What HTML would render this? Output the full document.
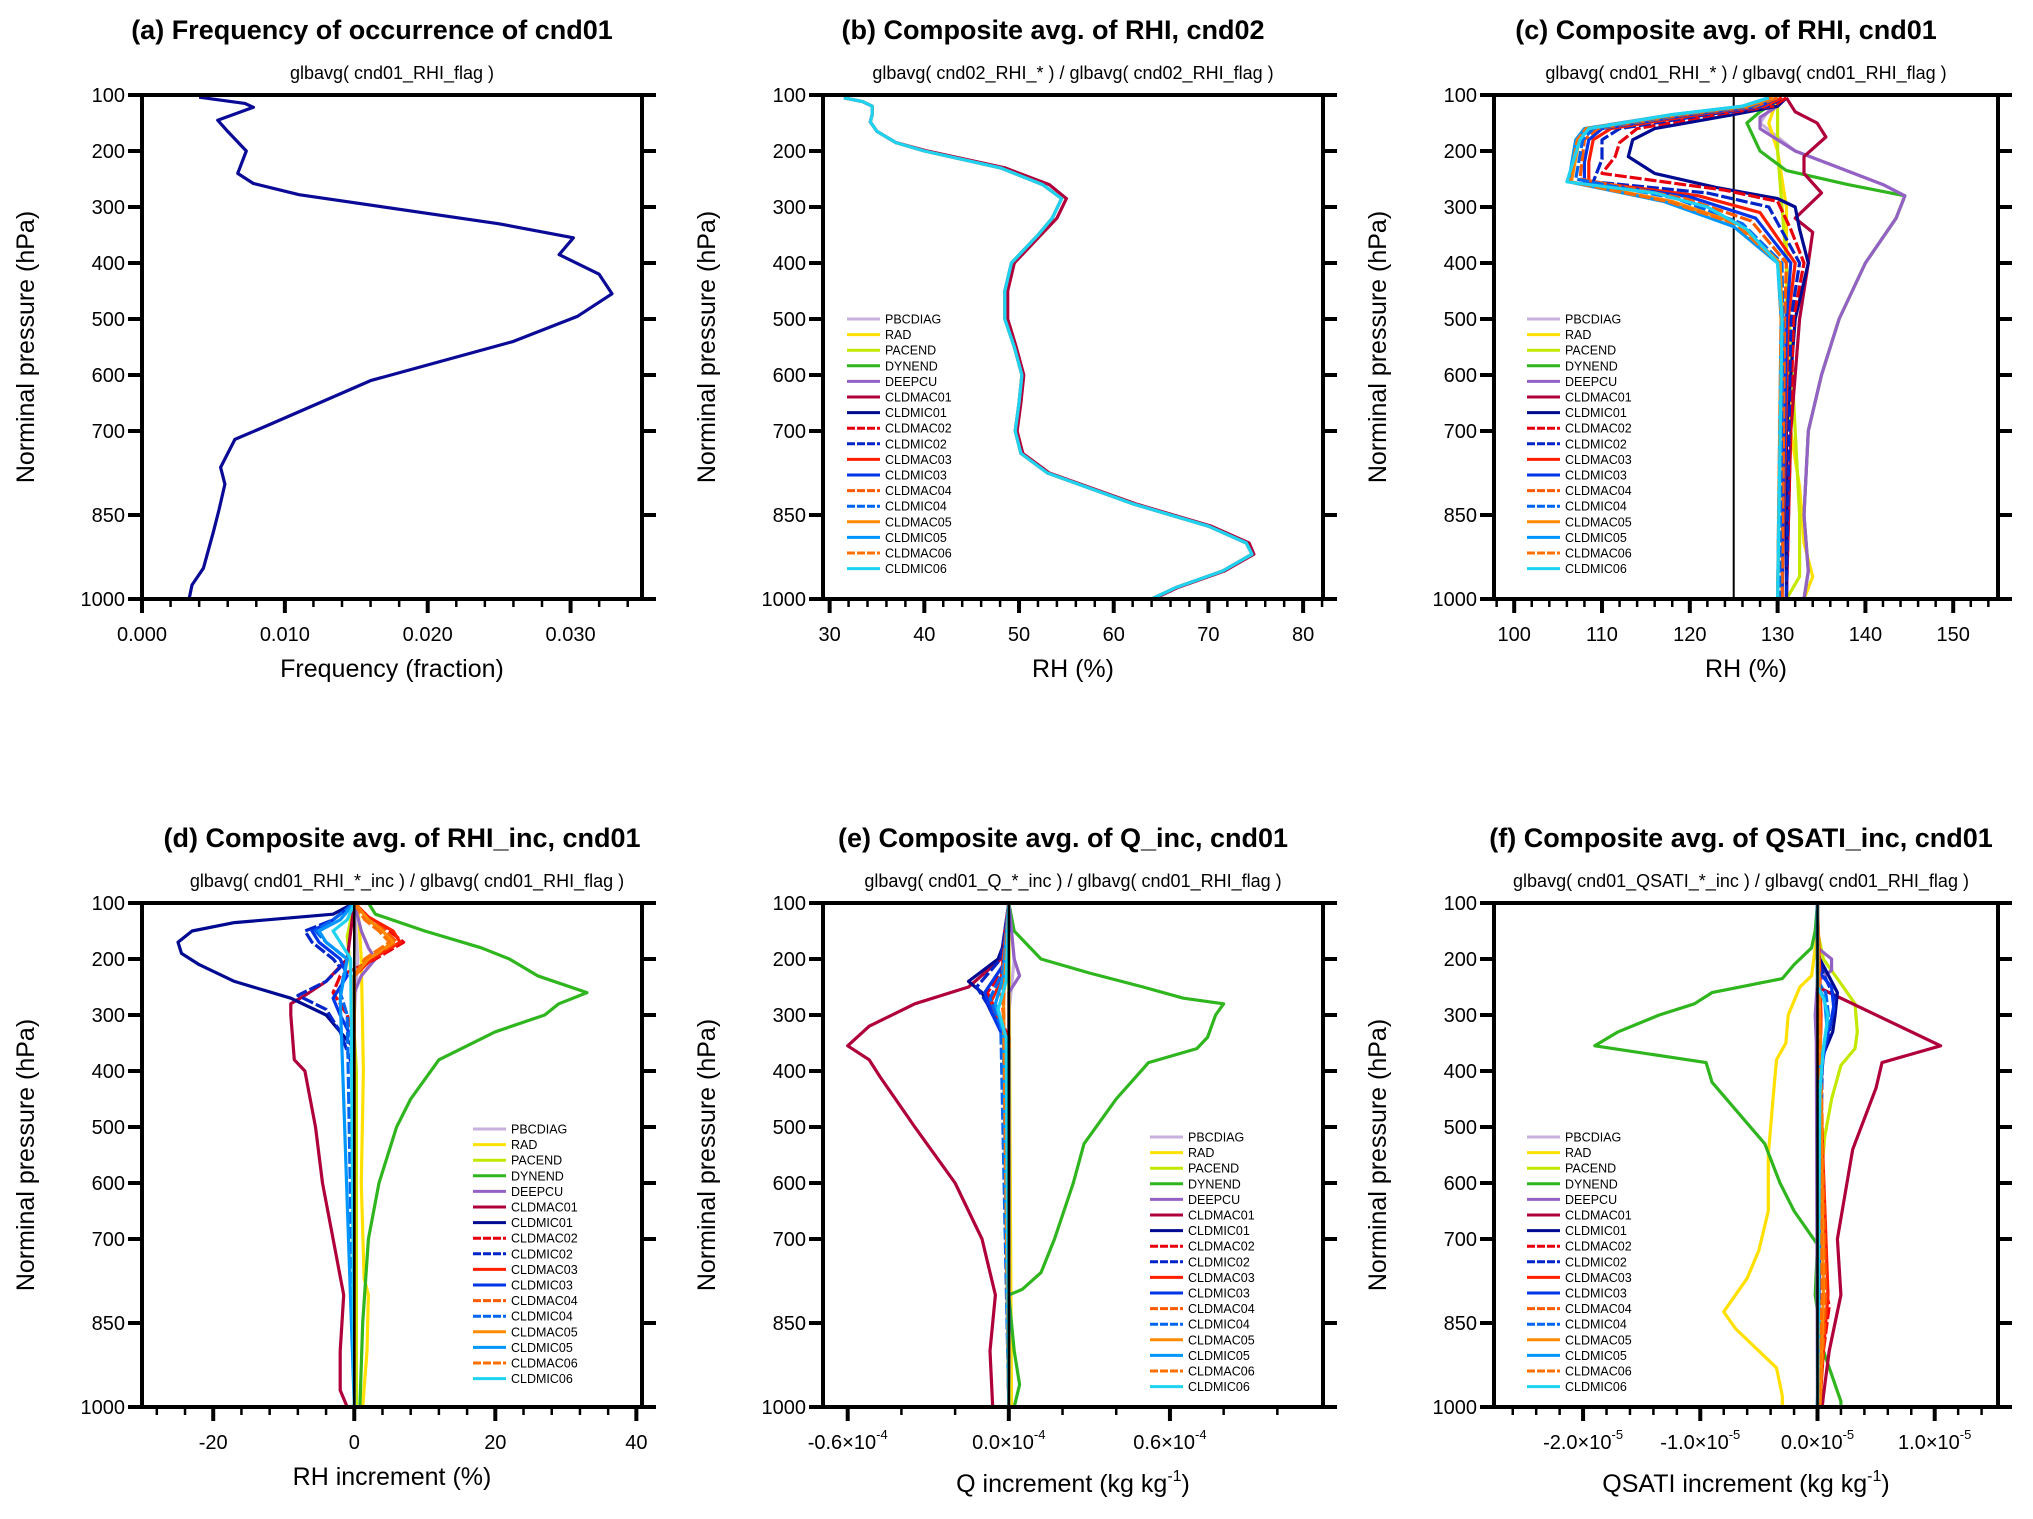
<!DOCTYPE html>
<html><head><meta charset="utf-8"><style>
html,body{margin:0;padding:0;background:#fff}
svg{display:block;font-family:"Liberation Sans",sans-serif}
</style></head><body>
<svg id="fig" width="2033" height="1519" viewBox="0 0 2033 1519" xmlns="http://www.w3.org/2000/svg"></svg>
<script>
// pressure tick data
const pTicks=[100,200,300,400,500,600,700,850,1000];
const seriesNames=["PBCDIAG","RAD","PACEND","DYNEND","DEEPCU","CLDMAC01","CLDMIC01","CLDMAC02","CLDMIC02","CLDMAC03","CLDMIC03","CLDMAC04","CLDMIC04","CLDMAC05","CLDMIC05","CLDMAC06","CLDMIC06"];
const seriesColors=["#c9b1df","#ffe000","#c4e800","#2fb51e","#9462c4","#b0003c","#000a90","#e8000c","#0024c8","#ff1e00","#0036e8","#ff5a00","#0066f0","#ff8a00","#0096ff","#ff7000","#1ed2f0"];
const seriesDash=[0,0,0,0,0,0,0,1,1,0,0,1,1,0,0,1,0];

// (a) frequency
const aFreq=[[104,0.004],[115,0.0072],[122,0.0078],[145,0.0053],[165,0.006],[200,0.0073],[240,0.0067],[258,0.0078],[278,0.011],[330,0.025],[355,0.0302],[385,0.0292],[420,0.032],[455,0.0329],[495,0.0305],[540,0.026],[610,0.016],[690,0.0088],[715,0.0065],[765,0.0055],[795,0.0058],[840,0.0054],[880,0.005],[945,0.0043],[975,0.0035],[1000,0.0033]];

// (b) RH cnd02
const bRH=[[105,31.5],[112,33.5],[120,34.5],[135,34.5],[148,34.3],[165,35],[185,37],[200,40],[230,48],[260,52.5],[285,54.5],[320,53.5],[350,52],[400,49.2],[450,48.5],[500,48.5],[550,49.5],[600,50.3],[650,50],[700,49.6],[740,50.2],[775,53],[830,62],[870,70],[900,74],[920,74.6],[950,71.5],[980,66.5],[1000,64]];
const bRHmac01=[[105,31.5],[112,33.5],[120,34.5],[135,34.5],[148,34.3],[165,35],[185,37],[200,40.3],[230,48.5],[260,53.2],[285,55],[320,54],[350,52.3],[400,49.5],[450,48.8],[500,48.8],[550,49.7],[600,50.5],[650,50.2],[700,49.8],[740,50.4],[775,53.2],[830,62.3],[870,70.3],[900,74.3],[920,74.8],[950,71.7],[980,66.7],[1000,64.2]];

// (c) RH cnd01
const cPBCDIAG=[[105,130],[150,128],[200,132],[230,137],[260,142],[280,144.5],[320,143.5],[400,140],[500,137],[600,135],[700,133.5],[850,133],[950,133.5],[1000,133]];
const cRAD=[[105,130],[150,129],[200,130],[300,131],[500,131],[700,131.5],[800,132.5],[900,133],[960,134],[1000,133]];
const cPACEND=[[105,130],[200,130],[400,131],[700,132],[850,132.5],[960,132.5],[1000,131]];
const cDYNEND=[[105,130.5],[130,128],[150,126.5],[200,128],[235,131],[260,138],[280,144.5],[320,143.5],[400,140],[500,137],[600,135],[700,133.5],[850,133],[950,133.5],[1000,133]];
const cDEEPCU=[[105,131],[120,130],[140,128],[160,128],[200,132],[230,137],[260,142],[280,144.5],[320,143.5],[400,140],[500,137],[600,135],[700,133.5],[850,133],[950,133.5],[1000,133]];
const cCLDMAC01=[[105,131],[130,132],[150,134.5],[175,135.5],[210,133],[240,133],[275,135],[320,132],[345,134],[400,133.5],[500,132.5],[700,131.5],[1000,131]];
const cCLDMIC01=[[105,131],[120,130],[135,125],[160,116],[180,113.5],[210,113],[240,116],[265,123],[285,130],[300,132],[340,132.5],[400,133.5],[500,132],[700,131],[1000,131]];
const cCLDMAC02=[[105,131],[120,129.5],[135,123],[160,114],[185,112],[210,111.5],[240,110],[270,124],[290,130],[340,131.5],[400,133],[500,131.8],[1000,131]];
const cCLDMIC02=[[105,130.5],[120,129],[135,122],[160,112],[180,110],[215,110],[255,109],[275,122],[300,129],[400,132.5],[500,131.5],[1000,131]];
const cCLDMAC03=[[105,130.5],[120,128.5],[135,121],[160,111],[180,109],[220,108.5],[255,108.5],[280,121],[310,128],[400,132],[500,131.2],[1000,130.5]];
const cCLDMIC03=[[105,130],[120,128],[135,120],[160,110],[180,108.5],[220,108],[255,108],[282,120],[320,127.5],[400,131.5],[500,131],[1000,130.5]];
const cCLDMAC04=[[105,130],[120,127.5],[135,119.5],[160,109.5],[180,108],[250,107.5],[285,119.5],[325,127],[400,131],[500,130.8],[1000,130.5]];
const cCLDMIC04=[[105,129.5],[120,127],[135,119],[160,109],[180,107.8],[250,107],[285,118.5],[330,126],[400,130.5],[500,130.6],[1000,130.2]];
const cCLDMAC05=[[105,129.5],[120,126.5],[135,118.5],[160,108.5],[180,107.4],[255,106.5],[290,118],[330,125.5],[400,130.3],[500,130.5],[1000,130]];
const cCLDMIC05=[[105,129],[120,126],[135,118],[160,108],[180,107],[255,106.2],[290,117],[335,125],[400,130],[500,130.4],[1000,130]];
const cCLDMAC06=[[105,129.2],[120,126.2],[135,118.2],[160,108.2],[180,107.2],[255,106.3],[290,117.5],[330,125.2],[400,130.1],[500,130.4],[1000,130]];
const cCLDMIC06=[[105,129],[120,126],[135,118],[160,108.5],[180,107.5],[255,106],[275,116],[300,122],[340,126.5],[400,130],[500,130.5],[1000,130]];

// (d) RH increment
const dPBCDIAG=[[100,0],[200,0.5],[300,0],[1000,0]];
const dRAD=[[100,0.5],[200,1],[400,1.3],[600,1],[770,1.4],[800,2],[900,1.8],[1000,1.2]];
const dPACEND=[[100,0],[160,-1],[220,-0.5],[400,0.3],[1000,0.3]];
const dDYNEND=[[100,2],[120,3],[150,10],[180,18],[200,22],[230,26],[260,33],[280,29],[300,27],[330,20],[380,12],[450,8],[500,6],[600,3.5],[700,2],[850,1.2],[1000,0.8]];
const dDEEPCU=[[100,0],[150,1],[180,2],[200,3],[230,1],[260,0],[1000,0]];
const dCLDMAC01=[[100,0],[200,-1],[240,-4],[265,-7],[280,-9],[300,-9],[380,-8.5],[400,-7],[500,-5.5],[600,-4.5],[700,-3],[800,-1.5],[900,-2],[970,-2],[1000,-1]];
const dCLDMIC01=[[100,0],[120,-3],[135,-17],[150,-23],[170,-25],[190,-24.5],[210,-22],[240,-17],[270,-9],[300,-4],[330,-2],[360,0],[1000,0]];
const dCLDMAC02=[[100,0],[125,2],[150,5],[170,7],[200,3],[230,-2],[260,-3],[300,-1],[350,0],[1000,0]];
const dCLDMIC02=[[100,0],[130,-3],[150,-7],[170,-6],[200,-3],[215,-2],[240,-4],[265,-8],[290,-4],[330,-2],[400,0],[1000,0]];
const dCLDMAC03=[[100,0],[125,2],[150,5.5],[170,6.5],[200,2.5],[230,0],[300,0],[1000,0]];
const dCLDMIC03=[[100,0],[130,-3],[150,-6],[170,-5],[200,-2],[230,-1],[270,-3],[300,-2],[350,0],[1000,0]];
const dCLDMAC04=[[100,0],[130,2],[150,4.5],[170,6],[200,2],[230,0],[1000,0]];
const dCLDMIC04=[[100,0],[130,-3],[150,-5.5],[170,-4],[200,-1],[260,-2],[300,-1],[1000,0]];
const dCLDMAC05=[[100,0],[130,2],[150,4],[170,5.5],[200,2],[230,0],[1000,0]];
const dCLDMIC05=[[100,0],[130,-2],[150,-5],[170,-4],[200,-1],[270,-2],[1000,0]];
const dCLDMAC06=[[100,0],[130,1.5],[150,3.5],[170,5],[200,1.5],[230,0],[1000,0]];
const dCLDMIC06=[[100,0],[130,-1],[150,-3],[170,-2],[200,-0.5],[1000,0]];

// (e) Q increment (units 1e-4)
const ePBCDIAG=[[100,0],[200,0.02],[300,0],[1000,0]];
const eRAD=[[100,0],[1000,0.01]];
const ePACEND=[[100,0],[1000,0]];
const eDYNEND=[[100,0],[150,0.02],[200,0.12],[225,0.3],[250,0.5],[270,0.65],[280,0.8],[300,0.77],[340,0.74],[360,0.7],[385,0.52],[450,0.4],[530,0.28],[600,0.24],[700,0.17],[760,0.12],[790,0.05],[800,0],[900,0.02],[960,0.04],[1000,0.02]];
const eDEEPCU=[[100,0],[200,0.02],[230,0.04],[260,0],[1000,0]];
const eCLDMAC01=[[100,0],[200,-0.03],[250,-0.15],[280,-0.35],[320,-0.52],[355,-0.6],[380,-0.52],[410,-0.48],[500,-0.35],[600,-0.2],[700,-0.1],[800,-0.05],[900,-0.07],[1000,-0.06]];
const eCLDMIC01=[[100,0],[150,0],[200,-0.04],[240,-0.15],[260,-0.1],[300,-0.06],[340,0],[1000,0]];
const eCLDMAC02=[[100,0],[220,-0.02],[260,-0.08],[300,-0.04],[340,0],[1000,0]];
const eCLDMIC02=[[100,0],[200,-0.03],[250,-0.12],[280,-0.08],[330,-0.02],[1000,0]];
const eCLDMAC03=[[100,0],[240,-0.03],[280,-0.07],[320,-0.02],[1000,0]];
const eCLDMIC03=[[100,0],[210,-0.02],[260,-0.09],[300,-0.06],[360,0],[1000,0]];
const eCLDMAC04=[[100,0],[260,-0.03],[300,-0.02],[1000,0]];
const eCLDMIC04=[[100,0],[220,-0.02],[270,-0.07],[320,-0.03],[1000,0]];
const eCLDMAC05=[[100,0],[270,-0.02],[1000,0]];
const eCLDMIC05=[[100,0],[230,-0.02],[280,-0.05],[330,-0.02],[1000,0]];
const eCLDMAC06=[[100,0],[280,-0.02],[1000,0]];
const eCLDMIC06=[[100,0],[240,-0.01],[290,-0.04],[340,-0.01],[1000,0]];

// (f) QSATI increment (units 1e-5)
const fPBCDIAG=[[100,0],[1000,0]];
const fRAD=[[100,0],[150,0],[230,-0.05],[250,-0.15],[300,-0.25],[350,-0.27],[380,-0.35],[450,-0.38],[550,-0.42],[650,-0.42],[720,-0.5],[770,-0.6],[830,-0.8],[860,-0.7],[890,-0.55],[930,-0.35],[960,-0.32],[980,-0.3],[1000,-0.3]];
const fPACEND=[[100,0],[150,0],[200,0.05],[250,0.22],[280,0.32],[330,0.34],[360,0.32],[390,0.2],[450,0.12],[520,0.06],[600,0.03],[700,0.02],[1000,0]];
const fDYNEND=[[100,0],[150,-0.02],[180,-0.05],[210,-0.2],[235,-0.3],[260,-0.9],[280,-1.05],[300,-1.35],[330,-1.7],[355,-1.9],[385,-0.95],[420,-0.9],[530,-0.45],[600,-0.32],[650,-0.2],[710,0],[800,-0.02],[900,0.05],[960,0.15],[990,0.2],[1000,0.2]];
const fDEEPCU=[[100,0],[180,0],[200,0.12],[220,0.12],[240,0],[300,-0.02],[350,-0.01],[1000,0]];
const fCLDMAC01=[[100,0],[250,0],[280,0.3],[320,0.7],[355,1.05],[385,0.55],[430,0.5],[540,0.3],[700,0.17],[800,0.2],[900,0.1],[980,0.05],[1000,0.04]];
const fCLDMIC01=[[100,0],[180,0],[200,0.02],[240,0.12],[260,0.17],[300,0.15],[330,0.13],[370,0.05],[450,0.02],[1000,0]];
const fCLDMAC02=[[100,0],[260,0],[300,0.03],[400,0.02],[780,0.06],[820,0.1],[900,0.05],[1000,0]];
const fCLDMIC02=[[100,0],[200,0],[240,0.08],[270,0.15],[330,0.1],[380,0.04],[1000,0]];
const fCLDMAC03=[[100,0],[300,0.03],[400,0.02],[800,0.09],[900,0.05],[1000,0.02]];
const fCLDMIC03=[[100,0],[220,0],[250,0.12],[290,0.14],[340,0.08],[400,0.03],[1000,0]];
const fCLDMAC04=[[100,0],[300,0.02],[800,0.07],[1000,0.02]];
const fCLDMIC04=[[100,0],[240,0],[260,0.07],[310,0.1],[380,0.03],[1000,0]];
const fCLDMAC05=[[100,0],[300,0.02],[800,0.05],[1000,0.02]];
const fCLDMIC05=[[100,0],[250,0],[270,0.06],[320,0.08],[400,0.02],[1000,0]];
const fCLDMAC06=[[100,0],[800,0.04],[1000,0.01]];
const fCLDMIC06=[[100,0],[250,0],[270,0.05],[300,0.09],[360,0.05],[440,0.02],[1000,0]];

// tick labels
const aTickVals=[0,0.01,0.02,0.03]; const aTickLabels=["0.000","0.010","0.020","0.030"];
const bTickVals=[30,40,50,60,70,80]; const bTickLabels=["30","40","50","60","70","80"];
const cTickVals=[100,110,120,130,140,150]; const cTickLabels=["100","110","120","130","140","150"];
const dTickVals=[-20,0,20,40]; const dTickLabels=["-20","0","20","40"];
const eTickVals=[-0.6,0,0.6]; const eTickLabels=["-0.6","0.0","0.6"];
const fTickVals=[-2,-1,0,1]; const fTickLabels=["-2.0","-1.0","0.0","1.0"];

const NS="http://www.w3.org/2000/svg";
const svg=document.getElementById('fig');
function el(tag,attrs,parent){const e=document.createElementNS(NS,tag);for(const k in attrs)e.setAttribute(k,attrs[k]);(parent||svg).appendChild(e);return e;}

function panel(c){
  const g=el('g',{});
  
  
  const X=v=>c.x0+(v-c.xmin)/(c.xmax-c.xmin)*c.w;
  const Y=p=>c.y0+(p-100)/900*c.h;
  const t=el('text',{x:c.x0+c.w/2+(c.tdx||0),y:c.y0-56,'text-anchor':'middle','font-size':27,'font-weight':'bold',fill:'#000'},g);
  t.textContent=c.title;
  
  
  const s=el('text',{x:c.x0+c.w/2+(c.sdx||0),y:c.y0-16,'text-anchor':'middle','font-size':18,fill:'#000'},g);
  s.textContent=c.sub;
  
  
  const cp=el('clipPath',{id:'clip'+c.id},g);
  el('rect',{x:c.x0,y:c.y0,width:c.w,height:c.h},cp);
  const pg=el('g',{'clip-path':'url(#clip'+c.id+')'},g);
  if(c.vline!==undefined){
    const vl=el('line',{x1:X(c.vline),x2:X(c.vline),y1:c.y0,y2:c.y0+c.h,stroke:'#000','stroke-width':2},pg);
    
    
  }
  c.series.forEach(sr=>{
    const pts=sr.data.map(d=>X(d[1]).toFixed(1)+','+Y(d[0]).toFixed(1)).join(' ');
    const pl=el('polyline',{points:pts,fill:'none',stroke:sr.color,'stroke-width':3.2,'stroke-linejoin':'round'},pg);
    if(sr.dash)pl.setAttribute('stroke-dasharray','12,3');
    
    
  });
  if(c.vlineTop!==undefined){
    const vl2=el('line',{x1:X(c.vlineTop),x2:X(c.vlineTop),y1:c.y0,y2:c.y0+c.h,stroke:'#000','stroke-width':2.5},pg);
    
    
  }
  const fr=el('rect',{x:c.x0,y:c.y0,width:c.w,height:c.h,fill:'none',stroke:'#000','stroke-width':4},g);
  
  
  pTicks.forEach(p=>{
    el('line',{x1:c.x0-14,x2:c.x0,y1:Y(p),y2:Y(p),stroke:'#000','stroke-width':4},g);
    el('line',{x1:c.x0+c.w,x2:c.x0+c.w+14,y1:Y(p),y2:Y(p),stroke:'#000','stroke-width':4},g);
    const yl=el('text',{x:c.x0-17,y:Y(p)+7,'text-anchor':'end','font-size':20,fill:'#000'},g);
    yl.textContent=p;
    
    
  });
  const yt=el('text',{transform:`translate(${c.x0-108},${c.y0+c.h/2}) rotate(-90)`,'text-anchor':'middle','font-size':25,fill:'#000'},g);
  yt.textContent='Norminal pressure (hPa)';
  
  
  const step=c.minor;
  for(let v=Math.ceil(c.xmin/step)*step;v<=c.xmax+1e-12;v+=step){
    el('line',{x1:X(v),x2:X(v),y1:c.y0+c.h,y2:c.y0+c.h+8,stroke:'#000','stroke-width':2.5},g);
  }
  c.tickVals.forEach((v,i)=>{
    el('line',{x1:X(v),x2:X(v),y1:c.y0+c.h,y2:c.y0+c.h+14,stroke:'#000','stroke-width':4},g);
    const tl=el('text',{x:X(v),y:c.y0+c.h+42,'text-anchor':'middle','font-size':20,fill:'#000'},g);
    
    
    if(c.exp){
      tl.textContent=c.tickLabels[i]+'\u00d710';
      const sp=el('tspan',{'font-size':13,dy:-10},tl);sp.textContent=c.exp;
    } else tl.textContent=c.tickLabels[i];
  });
  const xt=el('text',{x:c.x0+c.w/2,y:c.y0+c.h+(c.exp?85:78),'text-anchor':'middle','font-size':25,fill:'#000'},g);
  
  
  xt.textContent=c.xtitle;
  if(c.xtitleSup){const sp=el('tspan',{'font-size':16,dy:-11},xt);sp.textContent=c.xtitleSup;const sp2=el('tspan',{dy:11},xt);sp2.textContent=')';}
  if(c.legend){
    const lg=el('g',{},g);
    
    
    seriesNames.forEach((n,i)=>{
      const yy=c.legend.y+i*15.6;
      const ln=el('line',{x1:c.legend.x,x2:c.legend.x+33,y1:yy,y2:yy,stroke:seriesColors[i],'stroke-width':3},lg);
      if(seriesDash[i])ln.setAttribute('stroke-dasharray','8,2');
      const tx=el('text',{x:c.legend.x+38,y:yy+4.5,'font-size':12.5,fill:'#000'},lg);
      tx.textContent=n;
      
      
    });
  }
}
function mk(arrs){return seriesNames.map((n,i)=>({name:n,color:seriesColors[i],dash:seriesDash[i],data:arrs[i]}));}

panel({id:'a',x0:142,y0:95,w:500,h:504,xmin:0,xmax:0.035,minor:0.002,tickVals:aTickVals,tickLabels:aTickLabels,
  title:'(a) Frequency of occurrence of cnd01',sub:'glbavg( cnd01_RHI_flag )',tdx:-20,xtitle:'Frequency (fraction)',
  series:[{name:'freq',color:'#0a0a96',data:aFreq}]});
panel({id:'b',x0:823,y0:95,w:500,h:504,xmin:29.3,xmax:82.1,minor:2,tickVals:bTickVals,tickLabels:bTickLabels,
  title:'(b)  Composite avg. of RHI, cnd02',sub:'glbavg( cnd02_RHI_* ) / glbavg( cnd02_RHI_flag )',tdx:-20,xtitle:'RH (%)',
  legend:{x:847,y:319},
  series:[{name:'CLDMAC01',color:'#b0003c',data:bRHmac01},{name:'CLDMIC01',color:'#0036e8',data:bRH},{name:'CLDMAC06',color:'#ff8a00',data:bRH},{name:'CLDMIC06',color:'#1ed2f0',data:bRH}]});
panel({id:'c',x0:1494,y0:95,w:504,h:504,xmin:97.7,xmax:155.1,minor:2,tickVals:cTickVals,tickLabels:cTickLabels,
  title:'(c)  Composite avg. of RHI, cnd01',sub:'glbavg( cnd01_RHI_* ) / glbavg( cnd01_RHI_flag )',tdx:-20,xtitle:'RH (%)',
  vline:125,legend:{x:1527,y:319},
  series:mk([cPBCDIAG,cRAD,cPACEND,cDYNEND,cDEEPCU,cCLDMAC01,cCLDMIC01,cCLDMAC02,cCLDMIC02,cCLDMAC03,cCLDMIC03,cCLDMAC04,cCLDMIC04,cCLDMAC05,cCLDMIC05,cCLDMAC06,cCLDMIC06])});
panel({id:'d',x0:142,y0:903,w:500,h:504,xmin:-30.1,xmax:40.8,minor:4,tickVals:dTickVals,tickLabels:dTickLabels,
  title:'(d)  Composite avg. of RHI_inc, cnd01',sub:'glbavg( cnd01_RHI_*_inc ) / glbavg( cnd01_RHI_flag )',tdx:10,sdx:15,xtitle:'RH increment (%)',
  vlineTop:0,legend:{x:473,y:1129},
  series:mk([dPBCDIAG,dRAD,dPACEND,dDYNEND,dDEEPCU,dCLDMAC01,dCLDMIC01,dCLDMAC02,dCLDMIC02,dCLDMAC03,dCLDMIC03,dCLDMAC04,dCLDMIC04,dCLDMAC05,dCLDMIC05,dCLDMAC06,dCLDMIC06])});
panel({id:'e',x0:823,y0:903,w:500,h:504,xmin:-0.692,xmax:1.17,minor:0.2,tickVals:eTickVals,tickLabels:eTickLabels,exp:'-4',
  title:'(e)  Composite avg. of Q_inc, cnd01',sub:'glbavg( cnd01_Q_*_inc ) / glbavg( cnd01_RHI_flag )',tdx:-10,xtitle:'Q increment (kg kg',xtitleSup:'-1',
  vlineTop:0,legend:{x:1150,y:1137},
  series:mk([ePBCDIAG,eRAD,ePACEND,eDYNEND,eDEEPCU,eCLDMAC01,eCLDMIC01,eCLDMAC02,eCLDMIC02,eCLDMAC03,eCLDMIC03,eCLDMAC04,eCLDMIC04,eCLDMAC05,eCLDMIC05,eCLDMAC06,eCLDMIC06])});
panel({id:'f',x0:1494,y0:903,w:504,h:504,xmin:-2.76,xmax:1.54,minor:0.2,tickVals:fTickVals,tickLabels:fTickLabels,exp:'-5',
  title:'(f)  Composite avg. of QSATI_inc, cnd01',sub:'glbavg( cnd01_QSATI_*_inc ) / glbavg( cnd01_RHI_flag )',tdx:-5,sdx:-5,xtitle:'QSATI increment (kg kg',xtitleSup:'-1',
  vlineTop:0,legend:{x:1527,y:1137},
  series:mk([fPBCDIAG,fRAD,fPACEND,fDYNEND,fDEEPCU,fCLDMAC01,fCLDMIC01,fCLDMAC02,fCLDMIC02,fCLDMAC03,fCLDMIC03,fCLDMAC04,fCLDMIC04,fCLDMAC05,fCLDMIC05,fCLDMAC06,fCLDMIC06])});
</script>
</body></html>
